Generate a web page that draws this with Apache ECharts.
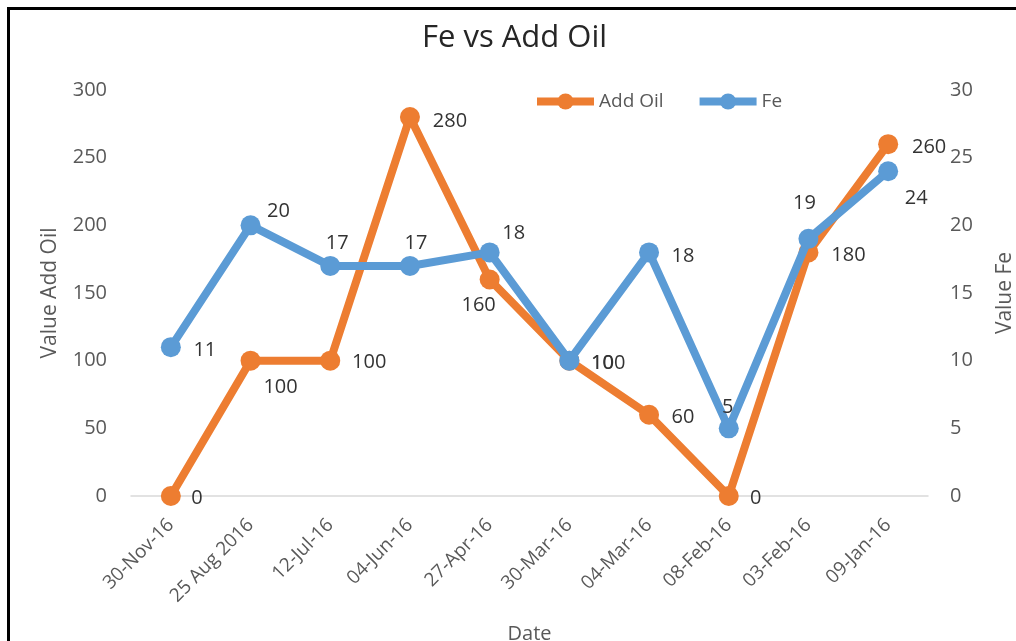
<!DOCTYPE html>
<html>
<head>
<meta charset="utf-8">
<script src="https://cdn.jsdelivr.net/npm/echarts@6/dist/echarts.min.js"></script>
<style>
  html, body { margin: 0; padding: 0; background: #fff; overflow: hidden; }
  #chart { position: absolute; left: 0; top: 0; width: 1016px; height: 641px; }
  #frame { position: absolute; left: 7px; top: 7px; width: 2000px; height: 2000px;
           border-left: 3px solid #000; border-top: 3px solid #000; pointer-events: none; }
</style>
</head>
<body>
<div id="chart"></div>
<div id="frame"></div>
<script>
// Sampling dates (as recorded, newest first)
const dates = ['30-Nov-16', '25 Aug 2016', '12-Jul-16', '04-Jun-16', '27-Apr-16',
               '30-Mar-16', '04-Mar-16', '08-Feb-16', '03-Feb-16', '09-Jan-16'];
// Oil added at each sampling
const addOil = [0, 100, 100, 280, 160, 100, 60, 0, 180, 260];
// Iron (Fe) reading at each sampling
const fe = [11, 20, 17, 17, 18, 10, 18, 5, 19, 24];
// Axis tick ranges
const oilTicks = { min: 0, max: 300, step: 50 };
const feTicks = { min: 0, max: 30, step: 5 };

// Hand-placed label offsets (px from the marker centre), kept apart from the values
const oilLabelOffsets = [[26, 2], [30, 27], [39, 2], [40, 4], [-11, 26],
                         [39, 3], [34, 2], [27, 2], [40, 3], [41, 3]];
const feLabelOffsets = [[34, 3], [28, -14], [7, -23], [6, -23], [24, -19],
                        [33, 3], [34, 4], [-1, -21], [-4, -36], [28, 27]];

const FONT = '"Open Sans", sans-serif';
const ORANGE = '#ED7D31';
const BLUE = '#5B9BD5';

function withLabels(values, offsets) {
  return values.map((v, i) => ({
    value: v,
    label: { position: 'inside', offset: offsets[i] }
  }));
}

const labelStyle = {
  show: true,
  color: '#333333',
  fontFamily: FONT,
  fontSize: 20
};

const chart = echarts.init(document.getElementById('chart'), null, { renderer: 'canvas' });
chart.setOption({
  animation: false,
  backgroundColor: 'transparent',
  title: {
    text: 'Fe vs Add Oil',
    left: 422,
    top: 23,
    padding: 0,
    textStyle: { fontFamily: FONT, fontSize: 31, fontWeight: 'normal', color: '#262626' }
  },
  legend: {
    left: 533,
    top: 92,
    padding: 0,
    itemWidth: 57,
    itemHeight: 20,
    itemGap: 32,
    lineStyle: { width: 8 },
    textStyle: { fontFamily: FONT, fontSize: 19, color: '#595959' },
    data: ['Add Oil', 'Fe']
  },
  grid: { left: 131, right: 88, top: 90, bottom: 145, outerBoundsMode: 'none' },
  xAxis: {
    type: 'category',
    data: dates,
    boundaryGap: true,
    name: 'Date',
    nameLocation: 'middle',
    nameGap: 128,
    nameTextStyle: { fontFamily: FONT, fontSize: 20, color: '#595959' },
    axisLine: { lineStyle: { color: '#d9d9d9', width: 1.5 } },
    axisTick: { show: false },
    axisLabel: {
      rotate: 45,
      margin: 26,
      interval: 0,
      fontFamily: FONT,
      fontSize: 19,
      color: '#595959'
    }
  },
  yAxis: [
    {
      type: 'value',
      min: oilTicks.min,
      max: oilTicks.max,
      interval: oilTicks.step,
      name: 'Value Add Oil',
      nameLocation: 'middle',
      nameRotate: 90,
      nameGap: 70,
      nameTextStyle: { fontFamily: FONT, fontSize: 21, color: '#595959' },
      axisLine: { show: false },
      axisTick: { show: false },
      splitLine: { show: false },
      axisLabel: { margin: 24, fontFamily: FONT, fontSize: 20, color: '#595959' }
    },
    {
      type: 'value',
      position: 'right',
      min: feTicks.min,
      max: feTicks.max,
      interval: feTicks.step,
      name: 'Value Fe',
      nameLocation: 'middle',
      nameRotate: 90,
      nameGap: 67,
      nameTextStyle: { fontFamily: FONT, fontSize: 21, color: '#595959' },
      axisLine: { show: false },
      axisTick: { show: false },
      splitLine: { show: false },
      axisLabel: { margin: 22, fontFamily: FONT, fontSize: 20, color: '#595959' }
    }
  ],
  series: [
    {
      name: 'Add Oil',
      type: 'line',
      yAxisIndex: 0,
      data: withLabels(addOil, oilLabelOffsets),
      symbol: 'circle',
      symbolSize: 20,
      color: ORANGE,
      lineStyle: { width: 8, color: ORANGE },
      itemStyle: { color: ORANGE },
      label: labelStyle,
      z: 2
    },
    {
      name: 'Fe',
      type: 'line',
      yAxisIndex: 1,
      data: withLabels(fe, feLabelOffsets),
      symbol: 'circle',
      symbolSize: 20,
      color: BLUE,
      lineStyle: { width: 8, color: BLUE },
      itemStyle: { color: BLUE },
      label: labelStyle,
      z: 3
    }
  ]
});
</script>
</body>
</html>
